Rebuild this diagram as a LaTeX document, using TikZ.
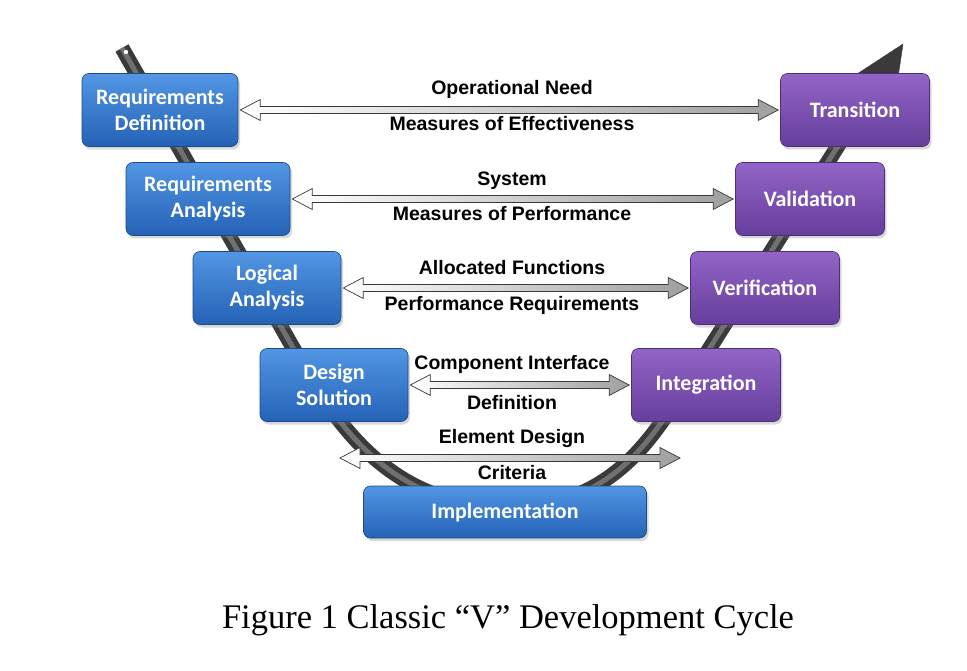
\documentclass[tikz,border=0pt]{standalone}
\usepackage{fontspec}
\setmainfont{Liberation Serif}
\newfontfamily\boxfont{Carlito}
\newfontfamily\labfont{Liberation Sans}
\usetikzlibrary{shadows,calc}
\definecolor{blueT}{RGB}{82,150,228}
\definecolor{blueB}{RGB}{36,98,182}
\definecolor{purpleT}{RGB}{146,100,198}
\definecolor{purpleB}{RGB}{102,62,156}
\definecolor{bandC}{RGB}{58,58,58}
\definecolor{bandH}{RGB}{112,112,112}
\tikzset{
  stage/.style={rounded corners=7pt, draw=#1B!75!black, line width=0.6pt,
    top color=#1T, bottom color=#1B, text=white, align=center, inner sep=0pt,
    font=\boxfont\bfseries\fontsize{22}{26}\selectfont,
    drop shadow={opacity=0.3, shadow xshift=2pt, shadow yshift=-3pt}},
  lab/.style={font=\labfont\bfseries\fontsize{19.5}{21}\selectfont, inner sep=0pt,
    text height=14pt, text depth=4pt},
  linkshape/.style={draw=gray!45!black, line width=0.7pt, left color=white, right color=gray!75},
  band/.style={line width=15pt, draw=bandC},
  bandhi/.style={line width=5pt, draw=bandH}
}
\newcommand\vlink[2]{%
  \path[linkshape] let \p1=([xshift=2pt]#1), \p2=([xshift=-2pt]#2) in
    (\x1,\y1) -- (\x1+20pt,\y1+10.5pt) -- (\x1+20pt,\y1+3.5pt) -- (\x2-20pt,\y1+3.5pt)
    -- (\x2-20pt,\y1+10.5pt) -- (\x2,\y1) -- (\x2-20pt,\y1-10.5pt) -- (\x2-20pt,\y1-3.5pt)
    -- (\x1+20pt,\y1-3.5pt) -- (\x1+20pt,\y1-10.5pt) -- cycle;}
\begin{document}
\begin{tikzpicture}[x=1pt,y=-1pt]
\useasboundingbox[fill=white] (0,0) rectangle (967,671);
% the V
\coordinate (vtop) at (122,48);
\coordinate (vl) at (300,360);
\coordinate (vbot) at (510,508);
\coordinate (vr) at (680,395);
\coordinate (vend) at (876,86);
\path[draw=bandC, fill=bandC] (903,44) -- (857,74) -- (895,98) -- cycle;
\draw[band] (vtop) -- (vl) .. controls (345,440) and (400,506) .. (vbot)
  .. controls (610,506) and (650,440) .. (vr) -- (vend);
\draw[bandhi] (vtop) -- (vl) .. controls (345,440) and (400,506) .. (vbot)
  .. controls (610,506) and (650,440) .. (vr) -- (vend);
\fill[white] (126,52) circle (2.2);
% stages
\node[stage=blue, minimum width=156pt, minimum height=73pt] (rd) at (160,110) {Requirements\\Definition};
\node[stage=blue, minimum width=164pt, minimum height=73pt] (ra) at (208,199) {Requirements\\Analysis};
\node[stage=blue, minimum width=148pt, minimum height=73pt] (la) at (267,288) {Logical\\Analysis};
\node[stage=blue, minimum width=148pt, minimum height=73pt] (ds) at (334,385) {Design\\Solution};
\node[stage=blue, minimum width=283pt, minimum height=52pt] (im) at (505,512) {Implementation};
\node[stage=purple, minimum width=149pt, minimum height=73pt] (tr) at (855,110) {Transition};
\node[stage=purple, minimum width=149pt, minimum height=73pt] (va) at (810,199) {Validation};
\node[stage=purple, minimum width=149pt, minimum height=73pt] (ve) at (765,288) {Verification};
\node[stage=purple, minimum width=149pt, minimum height=73pt] (ig) at (706,385) {Integration};
% links
\coordinate (e1) at (338,458);
\coordinate (e2) at (682,458);
\vlink{rd.east}{tr.west}
\vlink{ra.east}{va.west}
\vlink{la.east}{ve.west}
\vlink{ds.east}{ig.west}
\vlink{e1}{e2}
% labels
\node[lab] (l1a) at (512,90) {Operational Need};
\node[lab] (l1b) at (512,126) {Measures of Effectiveness};
\node[lab] (l2a) at (512,181) {System};
\node[lab] (l2b) at (512,216) {Measures of Performance};
\node[lab] (l3a) at (512,270) {Allocated Functions};
\node[lab] (l3b) at (512,305) {Performance Requirements};
\node[lab] (l4a) at (512,364) {Component Interface};
\node[lab] (l4b) at (512,404) {Definition};
\node[lab] (l5a) at (512,438) {Element Design};
\node[lab] (l5b) at (512,474) {Criteria};
% caption
\node[font=\fontsize{34.5}{40}\selectfont, inner sep=0pt] (cap) at (508,620) {Figure 1 Classic “V” Development Cycle};
\end{tikzpicture}
\end{document}
